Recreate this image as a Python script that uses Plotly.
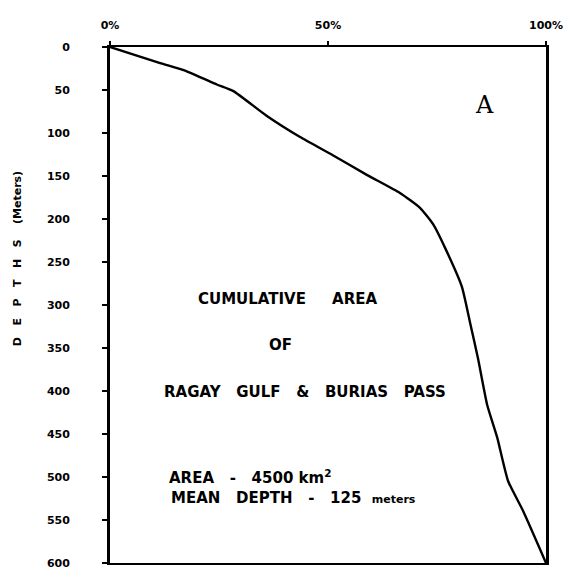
import plotly.graph_objects as go

# Cumulative area (% of total) reached at each depth (m)
cum_area_pct = [0, 11.5, 17.6, 24.5, 28.3, 35.9, 43.6, 51.1, 58.9, 66.5, 71.1, 74.1,
                76.8, 80.7, 82.6, 84.4, 86.5, 88.8, 91.3, 94.7, 100]
depth_m = [0, 18.7, 28.3, 43.6, 51.3, 79.9, 104.7, 125.8, 148.7, 169.7, 187, 206,
           233, 278.7, 321, 362, 416, 454, 504.6, 539, 600]

depth_ticks = list(range(0, 601, 50))
pct_ticks = [0, 50, 100]
pct_labels = ["0%", "50%", "100%"]

font_main = "DejaVu Sans, Liberation Sans, sans-serif"

fig = go.Figure()
fig.add_trace(go.Scatter(
    x=cum_area_pct, y=depth_m, mode="lines",
    line=dict(color="black", width=2.4, shape="spline", smoothing=0.5),
    showlegend=False, hoverinfo="skip",
))

fig.update_layout(
    width=577, height=581,
    margin=dict(l=110, r=31, t=47, b=11),
    paper_bgcolor="white", plot_bgcolor="white",
    font=dict(family=font_main, color="black"),
    xaxis=dict(
        range=[0, 100], side="top", tickvals=pct_ticks, ticktext=pct_labels,
        ticks="outside", ticklen=4, tickwidth=2, tickcolor="black",
        ticklabelstandoff=8,
        showgrid=False, zeroline=False, showline=True, linecolor="black",
        linewidth=2, mirror=True,
        tickfont=dict(size=11, family=font_main, weight="bold"),
    ),
    yaxis=dict(
        range=[600, 0], tickvals=depth_ticks, ticktext=[str(v) for v in depth_ticks],
        ticks="outside", ticklen=5, tickwidth=2, tickcolor="black",
        ticklabelstandoff=30,
        showgrid=False, zeroline=False, showline=True, linecolor="black",
        linewidth=2.8, mirror=True,
        tickfont=dict(size=11, family=font_main, weight="bold"),
    ),
)

text_font = dict(size=15, family=font_main, color="black", weight=600)
notes = [
    (0.406, 0.511, "CUMULATIVE     AREA"),
    (0.392, 0.423, "OF"),
    (0.447, 0.331, "RAGAY   GULF   &   BURIAS   PASS"),
]
for x, y, t in notes:
    fig.add_annotation(x=x, y=y, xref="paper", yref="paper", text=t,
                       showarrow=False, font=text_font, xanchor="center", yanchor="middle")

fig.add_annotation(x=0.13, y=0.166, xref="paper", yref="paper",
                   text="AREA   -   4500 km<sup>2</sup>", showarrow=False,
                   font=text_font, xanchor="left", yanchor="middle")
fig.add_annotation(x=0.135, y=0.126, xref="paper", yref="paper",
                   text="MEAN   DEPTH   -   125  <span style='font-size:11px'>meters</span>",
                   showarrow=False, font=text_font, xanchor="left", yanchor="middle")

fig.add_annotation(x=0.86, y=0.887, xref="paper", yref="paper", text="A",
                   showarrow=False, font=dict(size=24, family="DejaVu Serif, serif"),
                   xanchor="center", yanchor="middle")

# Vertical axis title, spaced like the lettering on the sheet
fig.add_annotation(x=-0.212, y=0.59, xref="paper", yref="paper",
                   text="D   E   P   T   H   S    (Meters)", textangle=-90, showarrow=False,
                   font=dict(size=11, family=font_main, weight="bold"),
                   xanchor="center", yanchor="middle")

fig.write_html("out.html")
